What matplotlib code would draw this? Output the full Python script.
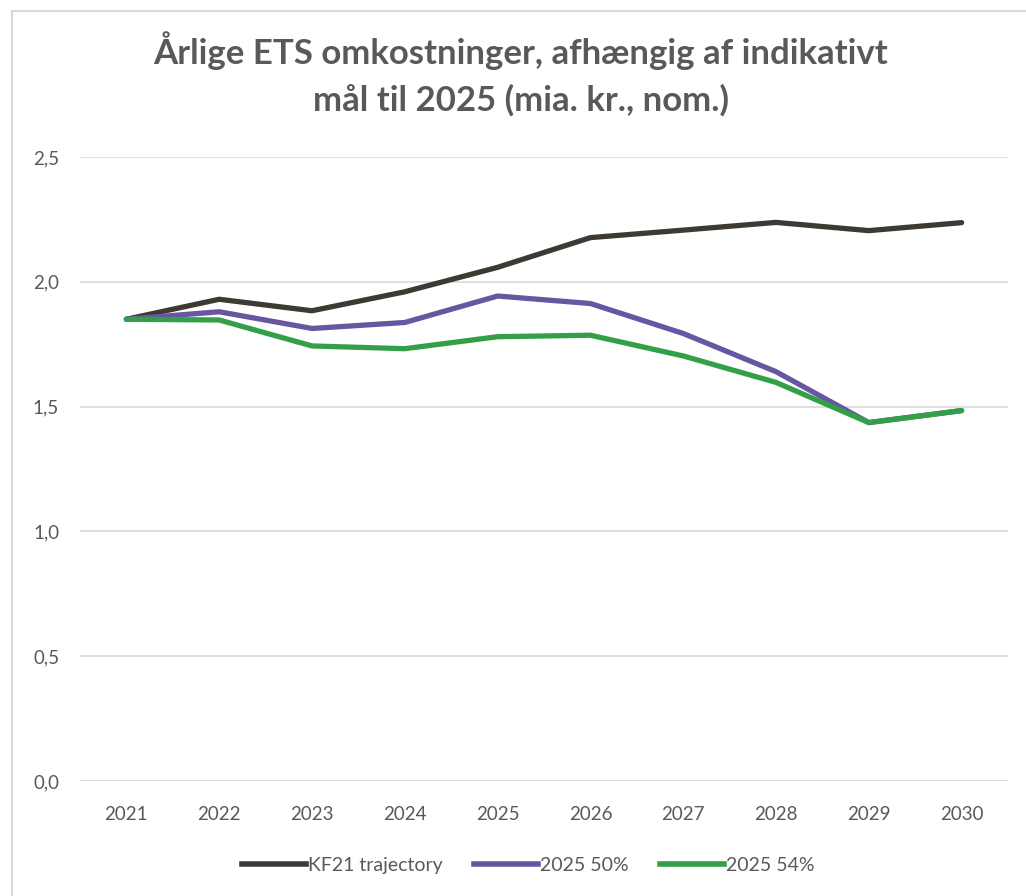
import matplotlib
matplotlib.use("Agg")
import matplotlib.pyplot as plt
from matplotlib.ticker import FuncFormatter, MultipleLocator
from matplotlib.lines import Line2D

years = ["2021", "2022", "2023", "2024", "2025", "2026", "2027", "2028", "2029", "2030"]
kf21 = [1.85, 1.93, 1.884, 1.96, 2.058, 2.177, 2.207, 2.238, 2.205, 2.237]
s50 = [1.85, 1.88, 1.813, 1.837, 1.943, 1.913, 1.793, 1.640, 1.436, 1.484]
s54 = [1.85, 1.847, 1.743, 1.732, 1.780, 1.786, 1.703, 1.597, 1.436, 1.484]
labels = ["KF21 trajectory", "2025 50%", "2025 54%"]
colors = ["#3F3934", "#6856A0", "#33A049"]

plt.rcParams['font.family'] = ['Lato', 'DejaVu Sans']
W, H = 1026, 896
fig = plt.figure(figsize=(W / 100, H / 100), dpi=100)
ax = fig.add_axes([80 / W, 1 - 781 / H, (1008 - 80) / W, (781 - 157) / H])

x = list(range(len(years)))
for vals, c, lab in zip([kf21, s50, s54], colors, labels):
    ax.plot(x, vals, color=c, lw=3.8, solid_capstyle='round', solid_joinstyle='round', label=lab, zorder=3)

ax.set_xlim(-0.5, len(years) - 0.5)
ax.set_ylim(0, 2.5)
ax.yaxis.set_major_locator(MultipleLocator(0.5))
ax.yaxis.set_major_formatter(FuncFormatter(lambda v, p: f"{v:.1f}".replace(".", ",")))
ax.set_xticks(x)
ax.set_xticklabels(years)
ax.grid(axis='y', color='#D9D9D9', lw=1.2, zorder=0)
for s in ax.spines.values():
    s.set_visible(False)
ax.tick_params(axis='both', length=0, labelsize=13.5, labelcolor='#595959')
ax.tick_params(axis='x', pad=18)
ax.tick_params(axis='y', pad=15)

fig.text(521 / W, 1 - 74 / H, "Årlige ETS omkostninger, afhængig af indikativt\nmål til 2025 (mia. kr., nom.)",
         ha='center', va='center', fontsize=25, fontweight='bold', color='#595959', linespacing=1.55)

handles = [Line2D([0], [0], color=c, lw=4) for c in colors]
leg = fig.legend(handles, labels, loc='center', bbox_to_anchor=(528 / W, 1 - 865 / H), ncol=3,
                 frameon=False, fontsize=14, handlelength=3.3, handletextpad=0.1, columnspacing=1.6,
                 labelcolor='#595959')

fig.add_artist(Line2D([12 / W, 12 / W], [0, 1 - 11 / H], transform=fig.transFigure, color='#D9D9D9', lw=1.5))
fig.add_artist(Line2D([12 / W, 1], [1 - 11 / H, 1 - 11 / H], transform=fig.transFigure, color='#D9D9D9', lw=1.5))

fig.savefig("out.png", dpi=100)
